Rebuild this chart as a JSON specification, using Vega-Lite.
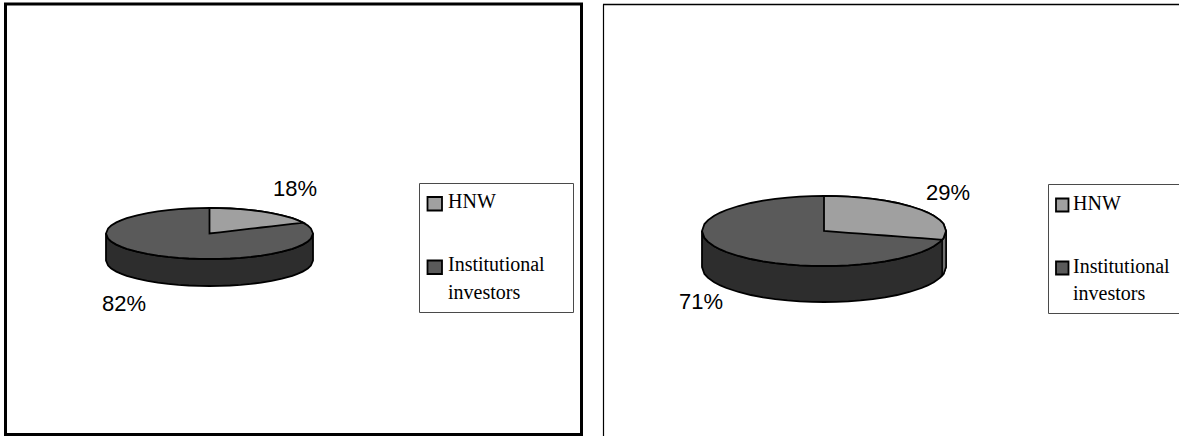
{
  "$schema": "https://vega.github.io/schema/vega-lite/v6.json",
  "width": 1179,
  "height": 436,
  "autosize": "none",
  "padding": 0,
  "background": "white",
  "view": {"stroke": null},
  "config": {"axis": {"domain": false, "ticks": false, "labels": false, "grid": false, "title": null}},
  "datasets": {
    "rim": [
      {"pie":"A","x":106,"top":233.5,"bottom":233.5,"base":260.5},
      {"pie":"A","x":108.1,"top":228.43,"bottom":238.57,"base":265.57},
      {"pie":"A","x":111.2,"top":225.54,"bottom":241.46,"base":268.46},
      {"pie":"A","x":116.35,"top":222.38,"bottom":244.62,"base":271.62},
      {"pie":"A","x":121.52,"top":220.06,"bottom":246.94,"base":273.94},
      {"pie":"A","x":126.7,"top":218.2,"bottom":248.8,"base":275.8},
      {"pie":"A","x":137.05,"top":215.29,"bottom":251.71,"base":278.71},
      {"pie":"A","x":147.4,"top":213.1,"bottom":253.9,"base":280.9},
      {"pie":"A","x":157.75,"top":211.42,"bottom":255.58,"base":282.58},
      {"pie":"A","x":168.1,"top":210.12,"bottom":256.88,"base":283.88},
      {"pie":"A","x":178.45,"top":209.17,"bottom":257.83,"base":284.83},
      {"pie":"A","x":188.8,"top":208.51,"bottom":258.49,"base":285.49},
      {"pie":"A","x":199.15,"top":208.13,"bottom":258.87,"base":285.87},
      {"pie":"A","x":209.5,"top":208,"bottom":259,"base":286},
      {"pie":"A","x":219.85,"top":208.13,"bottom":258.87,"base":285.87},
      {"pie":"A","x":230.2,"top":208.51,"bottom":258.49,"base":285.49},
      {"pie":"A","x":240.55,"top":209.17,"bottom":257.83,"base":284.83},
      {"pie":"A","x":250.9,"top":210.12,"bottom":256.88,"base":283.88},
      {"pie":"A","x":261.25,"top":211.42,"bottom":255.58,"base":282.58},
      {"pie":"A","x":271.6,"top":213.1,"bottom":253.9,"base":280.9},
      {"pie":"A","x":281.95,"top":215.29,"bottom":251.71,"base":278.71},
      {"pie":"A","x":292.3,"top":218.2,"bottom":248.8,"base":275.8},
      {"pie":"A","x":297.48,"top":220.06,"bottom":246.94,"base":273.94},
      {"pie":"A","x":302.65,"top":222.38,"bottom":244.62,"base":271.62},
      {"pie":"A","x":307.8,"top":225.54,"bottom":241.46,"base":268.46},
      {"pie":"A","x":310.9,"top":228.43,"bottom":238.57,"base":265.57},
      {"pie":"A","x":313,"top":233.5,"bottom":233.5,"base":260.5},
      {"pie":"B","x":702,"top":231,"bottom":231,"base":267},
      {"pie":"B","x":704.44,"top":224.04,"bottom":237.96,"base":273.96},
      {"pie":"B","x":708.1,"top":220.07,"bottom":241.93,"base":277.93},
      {"pie":"B","x":714.2,"top":215.74,"bottom":246.26,"base":282.26},
      {"pie":"B","x":720.3,"top":212.56,"bottom":249.44,"base":285.44},
      {"pie":"B","x":726.4,"top":210,"bottom":252,"base":288},
      {"pie":"B","x":738.6,"top":206.01,"bottom":255.99,"base":291.99},
      {"pie":"B","x":750.8,"top":203,"bottom":259,"base":295},
      {"pie":"B","x":763,"top":200.69,"bottom":261.31,"base":297.31},
      {"pie":"B","x":775.2,"top":198.92,"bottom":263.08,"base":299.08},
      {"pie":"B","x":787.4,"top":197.61,"bottom":264.39,"base":300.39},
      {"pie":"B","x":799.6,"top":196.71,"bottom":265.29,"base":301.29},
      {"pie":"B","x":811.8,"top":196.17,"bottom":265.83,"base":301.83},
      {"pie":"B","x":824,"top":196,"bottom":266,"base":302},
      {"pie":"B","x":836.2,"top":196.17,"bottom":265.83,"base":301.83},
      {"pie":"B","x":848.4,"top":196.71,"bottom":265.29,"base":301.29},
      {"pie":"B","x":860.6,"top":197.61,"bottom":264.39,"base":300.39},
      {"pie":"B","x":872.8,"top":198.92,"bottom":263.08,"base":299.08},
      {"pie":"B","x":885,"top":200.69,"bottom":261.31,"base":297.31},
      {"pie":"B","x":897.2,"top":203,"bottom":259,"base":295},
      {"pie":"B","x":909.4,"top":206.01,"bottom":255.99,"base":291.99},
      {"pie":"B","x":921.6,"top":210,"bottom":252,"base":288},
      {"pie":"B","x":927.7,"top":212.56,"bottom":249.44,"base":285.44},
      {"pie":"B","x":933.8,"top":215.74,"bottom":246.26,"base":282.26},
      {"pie":"B","x":939.9,"top":220.07,"bottom":241.93,"base":277.93},
      {"pie":"B","x":943.56,"top":224.04,"bottom":237.96,"base":273.96},
      {"pie":"B","x":946,"top":231,"bottom":231,"base":267}
    ],
    "hnwSlice": [
      {"pie":"A","x":209.5,"top":208,"edge":233.5},
      {"pie":"A","x":219.85,"top":208.13,"edge":232.3},
      {"pie":"A","x":230.2,"top":208.51,"edge":231.1},
      {"pie":"A","x":240.55,"top":209.17,"edge":229.9},
      {"pie":"A","x":250.9,"top":210.12,"edge":228.7},
      {"pie":"A","x":261.25,"top":211.42,"edge":227.5},
      {"pie":"A","x":271.6,"top":213.1,"edge":226.3},
      {"pie":"A","x":281.95,"top":215.29,"edge":225.1},
      {"pie":"A","x":292.3,"top":218.2,"edge":223.9},
      {"pie":"A","x":297.48,"top":220.06,"edge":223.3},
      {"pie":"A","x":303.15,"top":222.64,"edge":222.64},
      {"pie":"B","x":824,"top":196,"edge":231},
      {"pie":"B","x":836.2,"top":196.17,"edge":231.9},
      {"pie":"B","x":848.4,"top":196.71,"edge":232.8},
      {"pie":"B","x":860.6,"top":197.61,"edge":233.69},
      {"pie":"B","x":872.8,"top":198.92,"edge":234.59},
      {"pie":"B","x":885,"top":200.69,"edge":235.49},
      {"pie":"B","x":897.2,"top":203,"edge":236.39},
      {"pie":"B","x":909.4,"top":206.01,"edge":237.29},
      {"pie":"B","x":921.6,"top":210,"edge":238.19},
      {"pie":"B","x":927.7,"top":212.56,"edge":238.64},
      {"pie":"B","x":933.8,"top":215.74,"edge":239.09},
      {"pie":"B","x":939.9,"top":220.07,"edge":239.54},
      {"pie":"B","x":942.17,"top":222.3,"edge":239.7},
      {"pie":"B","x":943.56,"top":224.04,"edge":237.96},
      {"pie":"B","x":946,"top":231,"edge":231}
    ],
    "hnwWall": [
      {"x":942.17,"top":239.7,"base":275.7},
      {"x":943.56,"top":237.96,"base":273.96},
      {"x":946,"top":231,"base":267}
    ],
    "shares": [
      {"series":"HNW","share":0.18,"x":295,"y":196},
      {"series":"Institutional investors","share":0.82,"x":124,"y":311},
      {"series":"HNW","share":0.29,"x":948,"y":200},
      {"series":"Institutional investors","share":0.71,"x":701,"y":309}
    ],
    "legendBoxes": [
      {"x":419.5,"x2":573.5,"y":183.5,"y2":312.5},
      {"x":1048.5,"x2":1190,"y":184.5,"y2":313.5}
    ],
    "swatches": [
      {"series":"HNW","x":427.5,"x2":442,"y":197,"y2":210.5},
      {"series":"Institutional investors","x":427.5,"x2":442,"y":260.5,"y2":274},
      {"series":"HNW","x":1056,"x2":1068.5,"y":198.5,"y2":211.5},
      {"series":"Institutional investors","x":1056,"x2":1068.5,"y":261.5,"y2":274.5}
    ],
    "legendText": [
      {"panel":"left","name":"HNW","x":448,"y":208},
      {"panel":"left","name":"Institutional\ninvestors","x":448,"y":271},
      {"panel":"right","name":"HNW","x":1073,"y":210},
      {"panel":"right","name":"Institutional\ninvestors","x":1073,"y":273}
    ]
  },
  "encoding": {
    "x": {"field": "x", "type": "quantitative", "scale": {"domain": [0, 1179], "nice": false, "zero": false}, "axis": null}
  },
  "layer": [
    {
      "data": {"values": [{"x": 5.5, "x2": 581.5, "y": 4, "y2": 434.5}]},
      "mark": {"type": "rect", "fill": "white", "stroke": "#000000", "strokeWidth": 3},
      "encoding": {
        "x2": {"field": "x2"},
        "y": {"field": "y", "type": "quantitative", "scale": {"domain": [436, 0], "nice": false, "zero": false}, "axis": null},
        "y2": {"field": "y2"}
      }
    },
    {
      "data": {"values": [{"x": 603.5, "y": 4.5, "y2": 436}]},
      "mark": {"type": "rule", "stroke": "#000000", "strokeWidth": 1.2},
      "encoding": {"y": {"field": "y", "type": "quantitative", "axis": null}, "y2": {"field": "y2"}}
    },
    {
      "data": {"values": [{"x": 603, "x2": 1179, "y": 4.5}]},
      "mark": {"type": "rule", "stroke": "#000000", "strokeWidth": 1.5},
      "encoding": {"x2": {"field": "x2"}, "y": {"field": "y", "type": "quantitative", "axis": null}}
    },
    {
      "data": {"name": "legendBoxes"},
      "mark": {"type": "rect", "clip": true, "fill": "white", "stroke": "#4a4a4a", "strokeWidth": 1},
      "encoding": {"x2": {"field": "x2"}, "y": {"field": "y", "type": "quantitative", "axis": null}, "y2": {"field": "y2"}}
    },
    {
      "data": {"name": "rim"},
      "mark": {"type": "area", "orient": "vertical", "fill": "#2d2d2d", "stroke": "#000000", "strokeWidth": 1.8},
      "encoding": {
        "detail": {"field": "pie"},
        "y": {"field": "bottom", "type": "quantitative", "axis": null},
        "y2": {"field": "base"}
      }
    },
    {
      "data": {"name": "hnwWall"},
      "mark": {"type": "area", "orient": "vertical", "fill": "#707070", "stroke": "#000000", "strokeWidth": 1.5},
      "encoding": {"y": {"field": "top", "type": "quantitative", "axis": null}, "y2": {"field": "base"}}
    },
    {
      "data": {"name": "rim"},
      "mark": {"type": "area", "orient": "vertical", "fill": "#5a5a5a", "stroke": "#000000", "strokeWidth": 1.8},
      "encoding": {
        "detail": {"field": "pie"},
        "y": {"field": "top", "type": "quantitative", "axis": null},
        "y2": {"field": "bottom"}
      }
    },
    {
      "data": {"name": "hnwSlice"},
      "mark": {"type": "area", "orient": "vertical", "fill": "#a0a0a0", "stroke": "#000000", "strokeWidth": 1.8},
      "encoding": {
        "detail": {"field": "pie"},
        "y": {"field": "top", "type": "quantitative", "axis": null},
        "y2": {"field": "edge"}
      }
    },
    {
      "data": {"name": "swatches"},
      "mark": {"type": "rect", "stroke": "#000000", "strokeWidth": 1.8},
      "encoding": {
        "x2": {"field": "x2"},
        "y": {"field": "y", "type": "quantitative", "axis": null},
        "y2": {"field": "y2"},
        "fill": {"field": "series", "type": "nominal", "scale": {"domain": ["HNW", "Institutional investors"], "range": ["#a0a0a0", "#5a5a5a"]}, "legend": null}
      }
    },
    {
      "data": {"name": "shares"},
      "mark": {"type": "text", "font": "Liberation Sans", "fontSize": 22, "align": "center", "baseline": "alphabetic", "fill": "#000000"},
      "encoding": {
        "y": {"field": "y", "type": "quantitative", "axis": null},
        "text": {"field": "share", "type": "quantitative", "format": ".0%"}
      }
    },
    {
      "data": {"name": "legendText"},
      "transform": [{"filter": "datum.panel === 'left'"}],
      "mark": {"type": "text", "font": "Liberation Serif", "fontSize": 20, "align": "left", "baseline": "alphabetic", "fill": "#000000", "lineBreak": "\n", "lineHeight": 28},
      "encoding": {"y": {"field": "y", "type": "quantitative", "axis": null}, "text": {"field": "name"}}
    },
    {
      "data": {"name": "legendText"},
      "transform": [{"filter": "datum.panel === 'right'"}],
      "mark": {"type": "text", "font": "Liberation Serif", "fontSize": 20, "align": "left", "baseline": "alphabetic", "fill": "#000000", "lineBreak": "\n", "lineHeight": 27},
      "encoding": {"y": {"field": "y", "type": "quantitative", "axis": null}, "text": {"field": "name"}}
    }
  ]
}
